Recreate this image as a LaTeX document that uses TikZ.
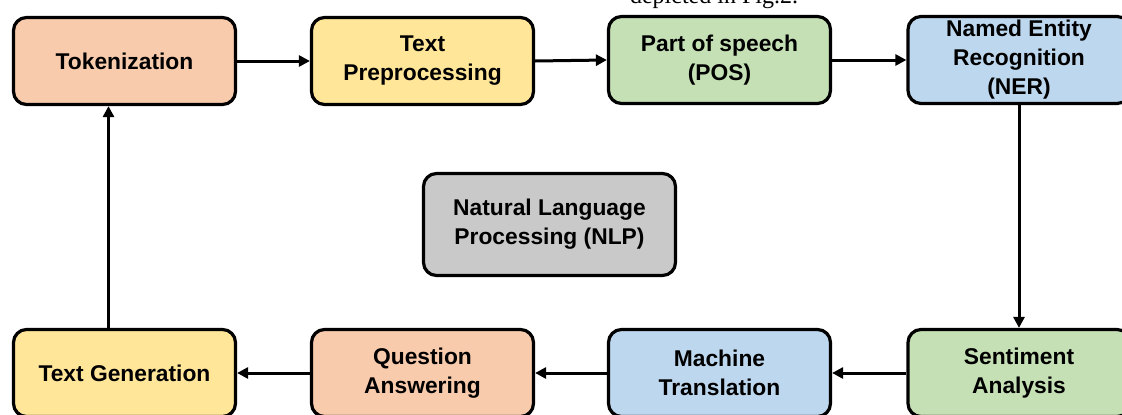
\documentclass[tikz,border=0pt]{standalone}
\usepackage{fontspec}
\setmainfont{Liberation Sans}
\newfontfamily\capfont{Liberation Serif}
\usetikzlibrary{arrows.meta}
\definecolor{cpeach}{HTML}{F8CBAD}
\definecolor{cyellow}{HTML}{FFE699}
\definecolor{cgreen}{HTML}{C5E0B4}
\definecolor{cblue}{HTML}{BDD7EE}
\definecolor{cgray}{HTML}{C9C9C9}
\tikzset{
  box/.style={draw=black, line width=3.2pt, rounded corners=13pt, minimum width=222pt, minimum height=87pt, align=center, inner sep=0pt, font=\fontsize{22.8}{29}\selectfont\bfseries},
  conn/.style={line width=3pt, -{Triangle[length=11pt,width=11pt]}}
}
\begin{document}
\begin{tikzpicture}[x=1pt,y=-1pt]
\useasboundingbox (0,0) rectangle (1122,415);
\clip (0,0) rectangle (1122,415);
\node[anchor=base, font=\capfont\fontsize{24}{28}\selectfont] (cap) at (714,3) {depicted in Fig.2.};
\node[box, fill=cpeach] (tok) at (124.5,61) {Tokenization};
\node[box, fill=cyellow] (tp) at (422.5,61) {Text\\Preprocessing};
\node[box, fill=cgreen] (pos) at (719.5,60) {Part of speech\\(POS)};
\node[box, fill=cblue] (ner) at (1019,60) {Named Entity\\Recognition\\(NER)};
\node[box, fill=cgray, minimum width=252pt, minimum height=102pt] (nlp) at (549.5,224.5) {Natural Language\\Processing (NLP)};
\node[box, fill=cyellow] (tg) at (124.5,373) {Text Generation};
\node[box, fill=cpeach] (qa) at (422.5,373) {Question\\Answering};
\node[box, fill=cblue] (mt) at (719.5,373) {Machine\\Translation};
\node[box, fill=cgreen] (sa) at (1019,373) {Sentiment\\Analysis};
\draw[conn] (tok.east) -- (tp.west);
\draw[conn] (tp.east) -- (pos.west);
\draw[conn] (pos.east) -- (ner.west);
\draw[conn] (ner.south) -- (sa.north);
\draw[conn] (sa.west) -- (mt.east);
\draw[conn] (mt.west) -- (qa.east);
\draw[conn] (qa.west) -- (tg.east);
\draw[conn] ([xshift=-16pt]tg.north) -- ([xshift=-16pt]tok.south);
\end{tikzpicture}
\end{document}
